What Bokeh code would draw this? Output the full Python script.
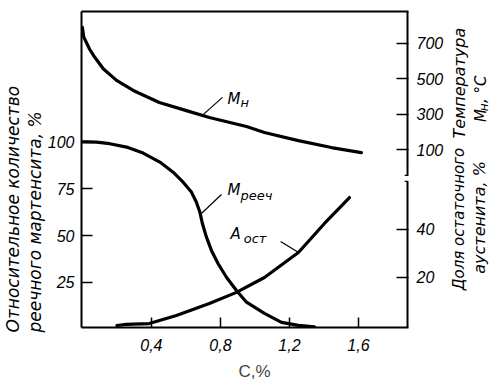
import math
from bokeh.plotting import figure
from bokeh.models import Range1d, LinearAxis, FixedTicker, Label, Title, CustomJSTickFormatter
from bokeh.layouts import row
from bokeh.embed import file_html
from bokeh.resources import INLINE

# ---- data ----
carbon_ms = [0.0, 0.0083, 0.024, 0.043, 0.072, 0.121, 0.198, 0.295, 0.446, 0.603, 0.736, 0.951, 1.055, 1.252, 1.443, 1.617]
ms_temp = [792, 736, 704, 666, 622, 557, 491, 434, 366, 320, 281, 230, 196, 150, 111, 82]

carbon_lath = [0.0, 0.082, 0.159, 0.256, 0.352, 0.449, 0.526, 0.584, 0.632, 0.661, 0.681, 0.696, 0.719,
               0.748, 0.787, 0.835, 0.893, 0.951, 1.055, 1.154, 1.252, 1.345]
lath_pct = [100, 99.8, 99.0, 97.2, 94.0, 89.2, 83.8, 78.5, 73.2, 67.8, 62.5, 56.3, 49.2,
            42.1, 35.0, 27.8, 20.7, 14.5, 8.5, 3.7, 2.1, 1.3]

carbon_ra = [0.2, 0.255, 0.388, 0.545, 0.736, 0.893, 1.055, 1.252, 1.403, 1.548]
ra_pct = [0, 0.5, 0.8, 4.2, 9.2, 13.8, 20, 30.4, 42.5, 53.3]

x_ticks = [0.4, 0.8, 1.2, 1.6]
left_ticks = [25, 50, 75, 100]
temp_ticks = [100, 300, 500, 700]
ra_ticks = [20, 40]
break_lo, break_hi = 60.0, 62.5   # axis break on the right scale (austenite units)

NUM_FONT = "Liberation Sans"
TXT_FONT = "DejaVu Sans"

x_range = Range1d(-0.005, 1.89)
y_range = Range1d(1.0, 169.5)
temp_range = Range1d(-907.5, 881.1)
ra_range = Range1d(-0.83, 130.8)

RIGHT_W = 55

p = figure(frame_width=327, frame_height=316, x_range=x_range, y_range=y_range,
           output_backend="svg", toolbar_location=None, title=None,
           min_border_left=80, min_border_right=38, min_border_top=11, min_border_bottom=55,
           background_fill_color="white", border_fill_color="white")
p.extra_y_ranges = {"temp": temp_range, "ra": ra_range}
p.grid.visible = False
p.outline_line_color = None

def style_axis(ax, tick_in, standoff):
    ax.axis_line_width = 2
    ax.axis_line_color = "black"
    ax.major_tick_in = tick_in
    ax.major_tick_out = 0
    ax.major_tick_line_width = 1.5
    ax.major_tick_line_color = "black"
    ax.minor_tick_line_color = None
    ax.major_label_text_font = NUM_FONT
    ax.major_label_text_font_style = "italic"
    ax.major_label_text_font_size = "16px"
    ax.major_label_text_color = "black"
    ax.major_label_standoff = standoff

# bottom axis
xa = p.xaxis[0]
xa.ticker = FixedTicker(ticks=x_ticks)
xa.formatter = CustomJSTickFormatter(code="return tick.toFixed(1).replace('.', ',');")
style_axis(xa, 10, 11)
xa.axis_label = "\u00a0\u00a0\u00a0\u00a0C,%"
xa.axis_label_text_font = NUM_FONT
xa.axis_label_text_font_style = "normal"
xa.axis_label_text_font_size = "17px"
xa.axis_label_standoff = 8

# left axis
ya = p.yaxis[0]
ya.ticker = FixedTicker(ticks=left_ticks)
style_axis(ya, 11, 7)

# left axis title: two rotated lines (inner line first)
for txt in ["реечного мартенсита, %", "Относительное количество"]:
    t = Title(text=txt, align="left", offset=-5, standoff=0, text_font=TXT_FONT,
              text_font_style="italic", text_font_size="17px", text_color="black")
    p.add_layout(t, "left")

# top frame line
top_axis = LinearAxis(ticker=FixedTicker(ticks=[]))
style_axis(top_axis, 0, 0)
p.add_layout(top_axis, "above")

# right axis: retained austenite scale below the break, Ms temperature above
def temp_to_ra(t):
    return ra_range.start + (t - temp_range.start) * (ra_range.end - ra_range.start) / (temp_range.end - temp_range.start)

right_ticks = ra_ticks + [temp_to_ra(t) for t in temp_ticks]
ra_axis = LinearAxis(y_range_name="ra", ticker=FixedTicker(ticks=right_ticks))
ra_axis.formatter = CustomJSTickFormatter(args=dict(tr=temp_range, ar=ra_range, brk=break_hi), code="""
    if (tick < brk) { return tick.toFixed(0); }
    const t = tr.start + (tick - ar.start) * (tr.end - tr.start) / (ar.end - ar.start);
    return (Math.round(t / 100) * 100).toString();
""")
style_axis(ra_axis, 12, 8)
ra_axis.axis_line_color = None
p.add_layout(ra_axis, "right")

# right frame line with the break
xe = x_range.end
p.segment(x0=[xe, xe], y0=[ra_range.start, break_hi], x1=[xe, xe], y1=[break_lo, ra_range.end],
          y_range_name="ra", line_color="black", line_width=4)
p.segment(x0=[xe - 0.022, xe - 0.022], y0=[break_lo, break_hi], x1=[xe, xe], y1=[break_lo, break_hi],
          y_range_name="ra", line_color="black", line_width=1.3)

# curves
p.line(carbon_ms, ms_temp, y_range_name="temp", line_color="black", line_width=3.2, line_join="round", line_cap="round")
p.line(carbon_lath, lath_pct, line_color="black", line_width=3.2, line_join="round", line_cap="round")
p.line(carbon_ra, ra_pct, y_range_name="ra", line_color="black", line_width=3.2, line_join="round", line_cap="round")

# leader lines
p.segment(x0=[0.812, 0.806, 1.149], y0=[123.7, 71.9, 46.9],
          x1=[0.700, 0.690, 1.253], y1=[114.5, 61.8, 41.0],
          line_color="black", line_width=1.2)

def lab(fig, x, y, text, size, font=TXT_FONT, style="italic", angle=0.0, align="left",
        baseline="alphabetic", **kw):
    l = Label(x=x, y=y, text=text, text_font=font, text_font_style=style, text_font_size=size,
              angle=angle, text_align=align, text_baseline=baseline, text_color="black", **kw)
    fig.add_layout(l)
    return l

# curve labels
lab(p, 0.841, 123.1, "M", "15px")
lab(p, 0.917, 121.0, "н", "13px")
lab(p, 0.841, 74.1, "M", "15px")
lab(p, 0.916, 71.5, "рееч", "13px")
lab(p, 0.858, 51.1, "A", "15px")
lab(p, 0.935, 48.5, "ост", "13px")

# right side panel holding the rotated right-hand titles
# (coordinates = pixels within the panel, y up; texts anchored at their bottom end)
pr = figure(width=RIGHT_W, height=382, x_range=Range1d(0, RIGHT_W), y_range=Range1d(0, 382),
            output_backend="svg", toolbar_location=None, title=None,
            x_axis_location=None, y_axis_location=None, min_border=0,
            background_fill_color="white", border_fill_color="white")
pr.grid.visible = False
pr.outline_line_color = None

R = math.pi / 2
V = dict(angle=R, align="left", baseline="middle")
lab(pr, 13, 382 - 154, "Температура", "16px", **V)
lab(pr, 34, 382 - 134, "M", "15px", **V)
lab(pr, 37, 382 - 121, "н", "12px", **V)
lab(pr, 34, 382 - 111, ", °C", "15px", **V)
lab(pr, 12, 382 - 338, "Доля остаточного", "15px", **V)
lab(pr, 33, 382 - 318, "аустенита, %", "16px", **V)

layout = row(p, pr, spacing=0)
open("out.html", "w").write(file_html(layout, INLINE))
